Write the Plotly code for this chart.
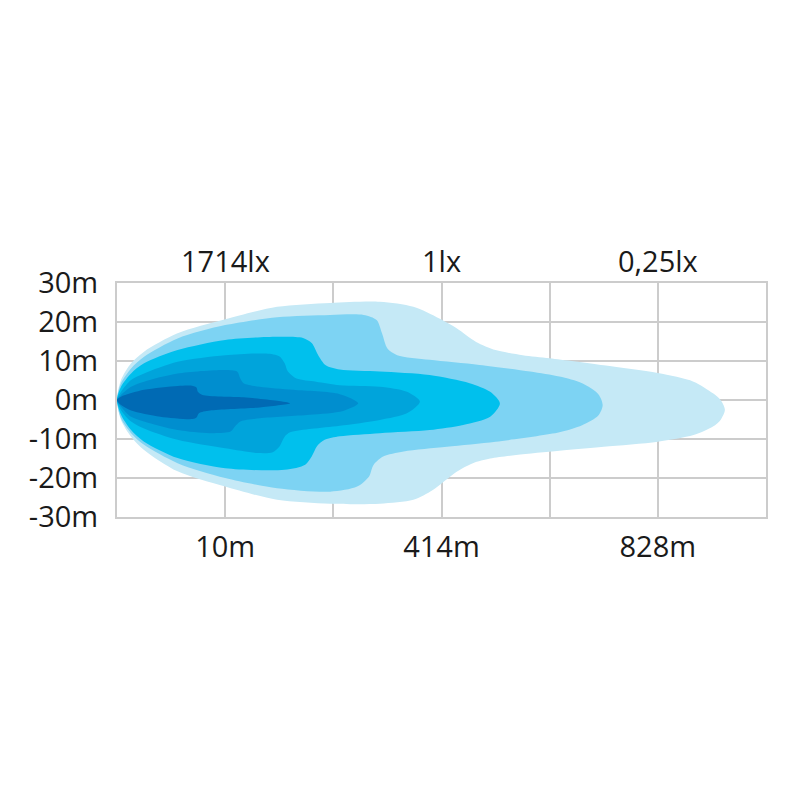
import plotly.graph_objects as go

# Grid columns (x in grid units 0..6), y in metres
x_tickvals = [0, 1, 2, 3, 4, 5, 6]
x_ticktext = ["", "10m", "", "414m", "", "828m", ""]
top_label_pos = [1, 3, 5]
top_labels = ["1714lx", "1lx", "0,25lx"]
y_tickvals = [-30, -20, -10, 0, 10, 20, 30]
y_ticktext = ["-30m", "-20m", "-10m", "0m", "10m", "20m", "30m"]

# Isolux outlines (outer -> inner), traced clockwise from the left tip
l1_x = [0, 0.037, 0.13, 0.25, 0.56, 1.0, 1.48, 1.97, 2.43, 2.74, 2.98, 3.14, 3.32, 3.5, 3.75, 4.0, 4.5, 5.0, 5.33, 5.51, 5.58, 5.62, 5.58, 5.51, 5.33, 5.0, 4.5, 4.09, 3.69, 3.45, 3.29, 3.14, 2.92, 2.74, 2.43, 1.97, 1.48, 1.0, 0.56, 0.25, 0.13, 0.037, 0]
l1_y = [0, 5.1, 9.4, 12.4, 17.1, 20.7, 23.9, 24.9, 25.2, 23.9, 20.9, 18.4, 14.9, 12.8, 11.5, 10.7, 8.9, 6.9, 4.7, 1.7, 0.0, -2.5, -5.1, -6.8, -9.0, -10.7, -12.0, -13.0, -14.1, -15.0, -16.2, -18.4, -23.1, -25.6, -26.6, -26.6, -25.6, -22.2, -18.3, -12.8, -9.4, -5.1, 0]

l2_x = [0, 0.037, 0.13, 0.25, 0.56, 1.0, 1.48, 1.97, 2.28, 2.4, 2.45, 2.5, 2.59, 2.89, 3.35, 3.82, 4.09, 4.3, 4.45, 4.49, 4.45, 4.3, 4.09, 3.5, 3.05, 2.65, 2.46, 2.37, 2.33, 2.22, 1.97, 1.48, 1.0, 0.56, 0.25, 0.13, 0.037, 0]
l2_y = [0, 4.3, 8.1, 11.1, 15.8, 19.2, 21.2, 21.8, 21.8, 20.5, 17.1, 13.2, 11.5, 10.3, 9.0, 7.3, 6.0, 4.3, 1.5, -1.3, -4.0, -6.5, -8.3, -10.7, -12.0, -13.2, -14.5, -16.7, -19.6, -22.2, -23.5, -22.6, -20.0, -16.2, -11.5, -8.5, -4.7, 0]

l3_x = [0, 0.037, 0.13, 0.25, 0.56, 1.0, 1.48, 1.72, 1.8, 1.86, 1.93, 2.06, 2.43, 2.89, 3.26, 3.45, 3.54, 3.45, 3.2, 2.89, 2.43, 2.06, 1.92, 1.85, 1.8, 1.74, 1.55, 1.0, 0.56, 0.25, 0.13, 0.037, 0]
l3_y = [0, 3.4, 6.8, 9.4, 12.8, 15.4, 16.2, 15.9, 14.6, 11.5, 8.9, 7.8, 7.3, 6.4, 4.3, 2.1, -0.9, -4.3, -6.4, -7.7, -8.5, -9.3, -10.2, -11.8, -14.5, -16.6, -17.9, -17.5, -14.9, -10.7, -7.7, -3.8, 0]

l4_x = [0, 0.037, 0.13, 0.25, 0.56, 1.0, 1.38, 1.5, 1.55, 1.58, 1.66, 1.84, 2.06, 2.43, 2.68, 2.8, 2.68, 2.43, 2.06, 1.8, 1.6, 1.55, 1.5, 1.44, 1.3, 1.0, 0.56, 0.25, 0.13, 0.037, 0]
l4_y = [0, 2.1, 5.1, 6.8, 9.8, 11.5, 11.9, 11.2, 9.4, 7.3, 5.5, 4.7, 3.8, 3.4, 2.1, -0.4, -3.4, -5.1, -6.6, -7.4, -8.3, -9.4, -12.0, -13.4, -13.6, -12.4, -10.2, -7.3, -5.5, -2.6, 0]

l5_x = [0, 0.037, 0.13, 0.25, 0.56, 1.0, 1.11, 1.14, 1.17, 1.32, 1.63, 2.06, 2.23, 2.09, 1.78, 1.32, 1.14, 1.09, 1.05, 0.86, 0.56, 0.25, 0.13, 0.037, 0]
l5_y = [0, 1.3, 3.4, 4.7, 6.8, 7.7, 7.3, 5.5, 4.3, 3.4, 2.6, 1.5, -0.85, -2.8, -3.8, -4.7, -5.5, -6.8, -8.1, -8.5, -7.7, -5.5, -4.3, -1.7, 0]

l6_x = [0, 0.037, 0.25, 0.56, 0.68, 0.735, 0.747, 0.79, 1.17, 1.48, 1.6, 1.32, 0.86, 0.757, 0.735, 0.7, 0.4, 0.13, 0.037, 0]
l6_y = [0, 0.85, 2.6, 3.6, 3.7, 3.2, 2.1, 1.3, 0.7, -0.2, -0.85, -1.9, -2.7, -3.4, -4.5, -4.9, -4.3, -2.7, -1.3, 0]

layers = [
    (l1_x, l1_y, "#c5e9f6"),
    (l2_x, l2_y, "#7dd3f3"),
    (l3_x, l3_y, "#00c0ed"),
    (l4_x, l4_y, "#00a4db"),
    (l5_x, l5_y, "#008ecf"),
    (l6_x, l6_y, "#006ab4"),
]

FONT = "Open Sans"
FS = 29
fig = go.Figure()
for xs, ys, col in layers:
    fig.add_trace(go.Scatter(
        x=xs, y=ys, mode="lines", fill="toself", fillcolor=col,
        line=dict(color=col, width=0, shape="spline", smoothing=0.8),
        hoverinfo="skip", showlegend=False,
    ))

for xv, txt in zip(top_label_pos, top_labels):
    fig.add_annotation(x=xv, y=1, xref="x", yref="paper", text=txt,
                       showarrow=False, yanchor="bottom", yshift=1,
                       font=dict(family=FONT, size=FS, color="#1a1a1a"))

fig.update_xaxes(range=[0, 6], tickvals=x_tickvals, ticktext=x_ticktext,
                 showgrid=True, gridcolor="#cccccc", gridwidth=2,
                 showline=True, mirror=True, linecolor="#cccccc", linewidth=2,
                 zeroline=False, ticks="", ticklabelstandoff=3, automargin=False,
                 tickfont=dict(family=FONT, size=FS, color="#1a1a1a"))
fig.update_yaxes(range=[-30, 30], tickvals=y_tickvals, ticktext=y_ticktext,
                 showgrid=True, gridcolor="#cccccc", gridwidth=2,
                 showline=True, mirror=True, linecolor="#cccccc", linewidth=2,
                 zeroline=False, ticks="", ticklabelstandoff=11, automargin=False,
                 tickfont=dict(family=FONT, size=FS, color="#1a1a1a"))

# page body has an 8px default margin; margins compensate for it
fig.update_layout(
    width=800, height=800,
    margin=dict(l=109, r=42, t=275, b=291),
    paper_bgcolor="white", plot_bgcolor="white",
)
fig.write_html("out.html")
